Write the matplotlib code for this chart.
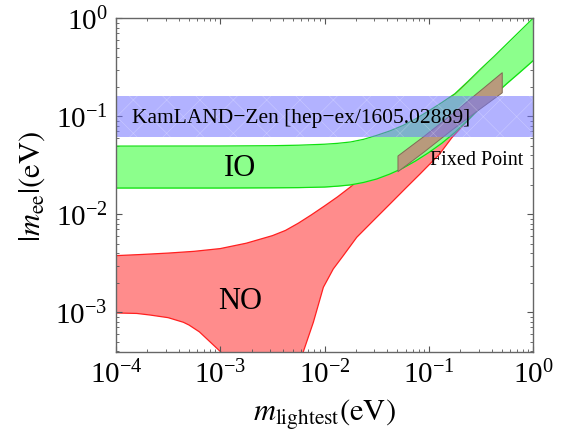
import numpy as np
import matplotlib
matplotlib.use('Agg')
import matplotlib.pyplot as plt

plt.rcParams['font.family'] = ['Liberation Serif', 'DejaVu Serif']
plt.rcParams['mathtext.fontset'] = 'stix'
plt.rcParams['hatch.linewidth'] = 0.4

# 读图得到的数据, 以 log10(eV) 记录
io_logx = [-4, -3, -2.5, -2.25, -2, -1.875, -1.75, -1.625, -1.5, -1.375, -1.25, -1.125,
           -1, -0.875, -0.75, -0.625, -0.5, -0.375, -0.25, -0.125, 0]
io_logup = [-1.304, -1.303, -1.300, -1.295, -1.285, -1.276, -1.262, -1.235, -1.195, -1.15,
            -1.095, -1.025, -0.945, -0.86, -0.77, -0.645, -0.515, -0.39, -0.26, -0.13, 0.0]
io_loglo = [-1.732, -1.732, -1.730, -1.728, -1.722, -1.713, -1.70, -1.675, -1.64, -1.59,
            -1.53, -1.455, -1.37, -1.275, -1.165, -1.04, -0.905, -0.785, -0.665, -0.55, -0.433]

no_up_logx = [-4, -3.75, -3.5, -3.25, -3, -2.75, -2.5, -2.375, -2.25, -2.125, -2,
              -1.875, -1.75, -1.5, -1.25, -1, -0.75, -0.5, -0.25, 0]
no_up_logy = [-2.422, -2.41, -2.396, -2.378, -2.35, -2.295, -2.218, -2.165, -2.09, -2.005,
              -1.915, -1.822, -1.72, -1.49, -1.255, -1.01, -0.78, -0.535, -0.29, -0.04]
no_lo_logx = [-4, -3.8, -3.674, -3.5, -3.354, -3.3, -3.2, -3.1, -3.002, -2.95, -2.85, -2.7,
              -2.3, -2.24, -2.203, -2.107, -2.011, -1.916, -1.82, -1.691, -1.532, -1.372,
              -1.212, -1.084, -0.9, -0.78, -0.65, -0.5, -0.25, 0]
no_lo_logy = [-3.007, -3.012, -3.028, -3.055, -3.102, -3.13, -3.20, -3.30, -3.398, -3.45,
              -3.6, -5, -5, -3.55, -3.402, -3.102, -2.745, -2.558, -2.422, -2.235, -2.065,
              -1.895, -1.724, -1.589, -1.39, -1.22, -1.07, -0.895, -0.655, -0.425]

fp_logx = [-1.30, -1.05, -0.8, -0.55, -0.30]
fp_logup = [-1.40, -1.20, -0.99, -0.77, -0.55]
fp_loglo = [-1.56, -1.36, -1.15, -0.95, -0.755]

kz_x = [1e-4, 1.0]
kz_lower = [0.062, 0.062]
kz_upper = [0.160, 0.160]


def p10(v):
    return np.power(10.0, v)


fig = plt.figure(figsize=(5.65, 4.39), dpi=100)
ax = fig.add_axes([0.2053, 0.196, 0.7381, 0.760])
ax.set_xscale('log')
ax.set_yscale('log')

# NO
px = p10(no_up_logx + no_lo_logx[::-1])
py = p10(no_up_logy + no_lo_logy[::-1])
ax.fill(px, py, color='#ff8c8c', lw=0, zorder=1)
ax.plot(p10(no_up_logx), p10(no_up_logy), color='#ff2020', lw=0.9, zorder=1.5)
ax.plot(p10(no_lo_logx), p10(no_lo_logy), color='#ff2020', lw=0.9, zorder=1.5)

# IO
ax.fill_between(p10(io_logx), p10(io_loglo), p10(io_logup), color='#8cff8c', lw=0, zorder=2)
ax.plot(p10(io_logx), p10(io_logup), color='#10e010', lw=0.9, zorder=2.5)
ax.plot(p10(io_logx), p10(io_loglo), color='#10e010', lw=0.9, zorder=2.5)

# Fixed point
ax.fill_between(p10(fp_logx), p10(fp_loglo), p10(fp_logup), facecolor='#b89a7c',
                edgecolor='#806a55', lw=0.7, zorder=3)

# KamLAND-Zen
ax.fill_between(kz_x, kz_lower, kz_upper, color='#7474ff', alpha=0.55, lw=0, zorder=4)
ax.fill_between(kz_x, kz_lower, kz_upper, facecolor='none', edgecolor=(1, 1, 1, 0.3),
                hatch='x', lw=0, zorder=4.1)

ax.text(1.42e-4, 0.098, 'KamLAND\u2212Zen [hep\u2212ex/1605.02889]', fontsize=15.5,
        va='center', ha='left', zorder=5)
ax.text(1.55e-3, 0.030, 'IO', fontsize=22, ha='center', va='center', zorder=5)
ax.text(1.55e-3, 1.32e-3, 'NO', fontsize=22, ha='center', va='center', zorder=5)
ax.text(0.103, 0.0366, 'Fixed Point', fontsize=14.5, ha='left', va='center', zorder=5)

ax.set_xlim(1e-4, 1)
ax.set_ylim(10**-3.405, 1)
ax.set_xticks([1e-4, 1e-3, 1e-2, 1e-1, 1])
ax.set_yticks([1e-3, 1e-2, 1e-1, 1])
ax.tick_params(which='both', direction='in', top=True, right=True,
               labelsize=21, color='#555555')
ax.tick_params(which='major', length=4, width=0.8, pad=6)
ax.tick_params(which='minor', length=2.2, width=0.6)
for s in ax.spines.values():
    s.set_color('#666666')
    s.set_linewidth(1.0)
    s.set_zorder(6)

ax.set_xlabel(r'$m_{\rm lightest}(\rm eV)$', fontsize=22, labelpad=6)
ax.set_ylabel(r'$|m_{\rm ee}|(\rm eV)$', fontsize=22, labelpad=6)

fig.savefig('out.png', dpi=100)
